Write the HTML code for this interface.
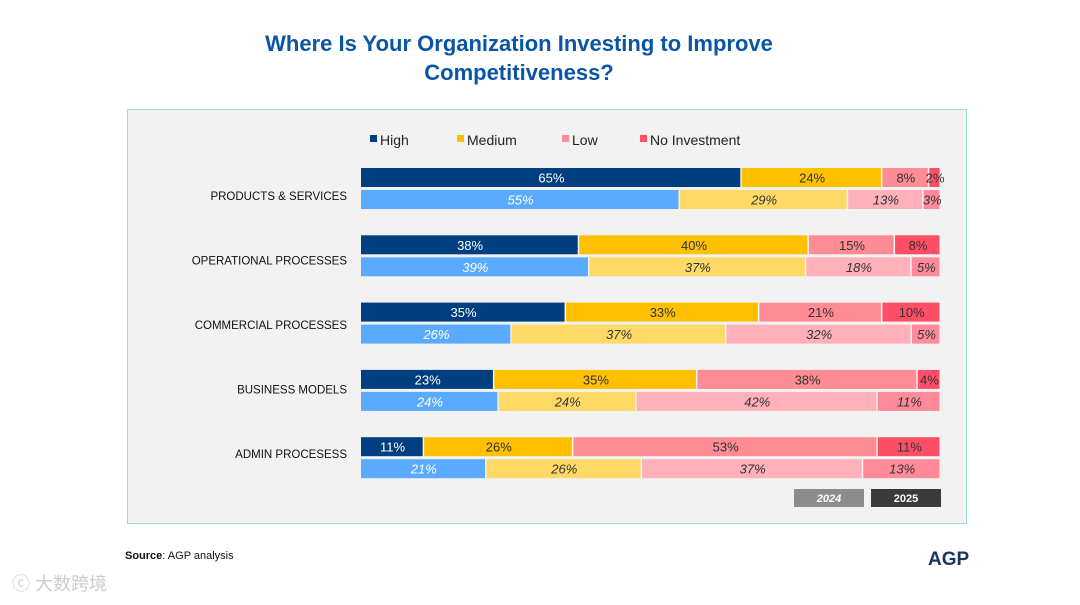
<!DOCTYPE html>
<html><head><meta charset="utf-8"><style>
body{margin:0;width:1080px;height:605px;background:#fff;font-family:"Liberation Sans",Arial,sans-serif;position:relative;overflow:hidden}
.title{position:absolute;left:0;width:1038px;top:29px;text-align:center;color:#0a55a5;font-weight:bold;font-size:22px;line-height:29px}
.panel{position:absolute;left:127px;top:109px;width:838px;height:413px;background:#f2f2f2;border:1px solid #9fd4ea}
svg{position:absolute;left:0;top:0}
</style></head><body>
<div class="title">Where Is Your Organization Investing to Improve<br>Competitiveness?</div>
<div class="panel"></div>
<svg id="c" width="1080" height="605"></svg>
<script>
const categories=["PRODUCTS & SERVICES","OPERATIONAL PROCESSES","COMMERCIAL PROCESSES","BUSINESS MODELS","ADMIN PROCESESS"];
const seriesNames=["High","Medium","Low","No Investment"];
const values2025=[[65,24,8,2],[38,40,15,8],[35,33,21,10],[23,35,38,4],[11,26,53,11]];
const values2024=[[55,29,13,3],[39,37,18,5],[26,37,32,5],[24,24,42,11],[21,26,37,13]];
const c25=["#003f7f","#ffc000","#ff8b94","#ff4f67"];
const c24=["#5aabff","#ffd966","#ffb0b8","#ff8b9a"];
const NS="http://www.w3.org/2000/svg";
const svg=document.getElementById('c');
const x0=361, fullW=580;
function yGroup(i){return 168+i*67.3;}
function mk(tag,attrs,txt){const e=document.createElementNS(NS,tag);for(const k in attrs)e.setAttribute(k,attrs[k]);if(txt!==undefined)e.textContent=txt;svg.appendChild(e);return e;}
const lx=[370,457,562,640];
seriesNames.forEach((n,i)=>{
  const r=mk('rect',{x:lx[i],y:135,width:7,height:7,fill:c25[i]});
  
  
  const t=mk('text',{x:lx[i]+10,y:145,'font-size':14,fill:'#222'},n);
  
  
});
categories.forEach((cat,i)=>{
  const y=yGroup(i);
  const lab=mk('text',{x:347,y:200+i*64.5,'font-size':11.5,fill:'#111','text-anchor':'end'},cat);
  
  
  [[values2025[i],c25,y,false],[values2024[i],c24,y+22,true]].forEach(([vals,cols,yy,it])=>{
    const tot=vals.reduce((a,b)=>a+b,0);
    let x=x0;
    vals.forEach((v,j)=>{
      const w=v/tot*fullW;
      const r=mk('rect',{x:x,y:yy,width:w-1.5,height:19,fill:cols[j]});
      
      
      const t=mk('text',{x:x+w/2,y:yy+14.5,'font-size':13,'text-anchor':'middle',fill:j===0?'#fff':'#333','font-style':it?'italic':'normal'},v+'%');
      
      
      x+=w;
    });
  });
});
const b1=mk('rect',{x:794,y:489,width:70,height:18,fill:'#8c8c8c'});


const t1=mk('text',{x:829,y:502,'font-size':11,'font-weight':'bold','font-style':'italic',fill:'#fff','text-anchor':'middle'},'2024');


const b2=mk('rect',{x:871,y:489,width:70,height:18,fill:'#3a3a3a'});


const t2=mk('text',{x:906,y:502,'font-size':11,'font-weight':'bold',fill:'#fff','text-anchor':'middle'},'2025');


const src=mk('text',{x:125,y:559,'font-size':11,fill:'#111'});
src.innerHTML='<tspan font-weight="bold">Source</tspan>: AGP analysis';


const logo=mk('text',{x:928,y:565,'font-size':19,'font-weight':'bold',fill:'#1a3560'},'AGP');


const wm=mk('text',{x:12,y:590,'font-size':18,fill:'#ccc','font-family':'Liberation Sans, Noto Sans CJK SC, sans-serif'},'ⓒ 大数跨境');


</script>
</body></html>
